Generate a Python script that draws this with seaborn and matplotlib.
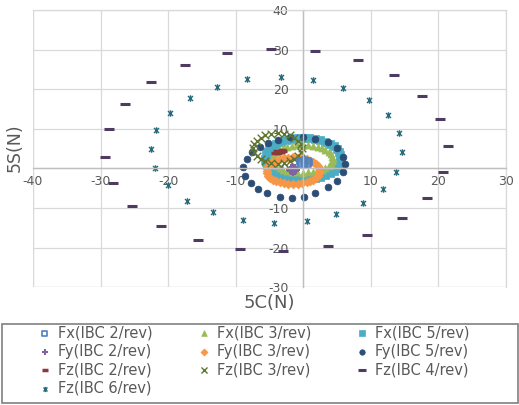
import matplotlib
matplotlib.use('Agg')

import matplotlib.pyplot as plt
from matplotlib.path import Path
from matplotlib.patches import Rectangle
import seaborn as sns

# ── Data ───────────────────────────────────────────────────────────────────
fx2_x = [-0.5, -0.3, 0.2, 0.7, 0.9, 0.7, 0.2, -0.3]
fx2_y = [1.6, 2.0, 2.1, 2.0, 1.6, 1.2, 1.1, 1.2]

fy2_x = [-2.0, -1.8, -1.5, -1.2, -1.0, -1.2, -1.5, -1.8]
fy2_y = [-0.3, 0.1, 0.2, 0.1, -0.3, -0.7, -0.8, -0.7]

fz2_x = [-4.1, -3.9, -3.6, -3.2, -3.0, -3.3, -3.7]
fz2_y = [4.0, 4.3, 4.5, 4.6, 4.4, 4.1, 3.9]

fx3_x = [4.4, 4.3, 4.1, 3.8, 3.3, 2.8, 2.2, 1.4, 0.7, -0.1,
         -0.9, -1.6, -2.4, -3.0, -3.5, -4.0, -4.3, -4.5, -4.6,
         -4.5, -4.3, -4.0, -3.5, -3.0, -2.4, -1.6, -0.9, -0.1,
         0.7, 1.4, 2.2, 2.8, 3.3, 3.8, 4.1, 4.3]
fx3_y = [2.4, 3.0, 3.6, 4.2, 4.7, 5.1, 5.4, 5.7, 5.8, 5.9,
         5.8, 5.7, 5.4, 5.1, 4.7, 4.2, 3.6, 3.0, 2.4,
         1.8, 1.2, 0.7, 0.1, -0.3, -0.6, -0.9, -1.0, -1.1,
         -1.0, -0.9, -0.6, -0.3, 0.1, 0.7, 1.2, 1.8]

fy3_x = [2.4, 2.3, 2.2, 1.9, 1.5, 1.0, 0.5, -0.2, -0.8, -1.5,
         -2.2, -2.8, -3.5, -4.0, -4.5, -4.9, -5.2, -5.3, -5.4,
         -5.3, -5.2, -4.9, -4.5, -4.0, -3.5, -2.8, -2.2, -1.5,
         -0.8, -0.2, 0.5, 1.0, 1.5, 1.9, 2.2, 2.3]
fy3_y = [-0.6, 0.0, 0.6, 1.1, 1.6, 2.0, 2.3, 2.6, 2.7, 2.8,
         2.7, 2.6, 2.3, 2.0, 1.6, 1.1, 0.6, 0.0, -0.6,
         -1.2, -1.8, -2.3, -2.8, -3.2, -3.5, -3.8, -3.9, -4.0,
         -3.9, -3.8, -3.5, -3.2, -2.8, -2.3, -1.8, -1.2]

fz3_x = [-0.2, -0.3, -0.7, -1.3, -2.0, -2.9, -3.8,
         -4.7, -5.6, -6.3, -6.9, -7.3, -7.4,
         -7.3, -6.9, -6.3, -5.6, -4.7, -3.8,
         -2.9, -2.0, -1.3, -0.7, -0.3]
fz3_y = [5.1, 6.1, 7.0, 7.8, 8.4, 8.8, 8.9,
         8.8, 8.4, 7.8, 7.0, 6.1, 5.1,
         4.1, 3.2, 2.4, 1.8, 1.4, 1.2,
         1.4, 1.8, 2.4, 3.2, 4.1]

fx5_x = [5.6, 5.5, 5.3, 5.0, 4.5, 4.0, 3.3, 2.5, 1.7, 0.9,
         0.0, -0.9, -1.7, -2.5, -3.3, -4.0, -4.5, -5.0, -5.3, -5.5,
         -5.6, -5.5, -5.3, -5.0, -4.5, -4.0, -3.3, -2.5, -1.7, -0.9,
         0.0, 0.9, 1.7, 2.5, 3.3, 4.0, 4.5, 5.0, 5.3, 5.5]
fx5_y = [2.5, 3.3, 4.1, 4.9, 5.6, 6.2, 6.7, 7.1, 7.4, 7.6,
         7.7, 7.6, 7.4, 7.1, 6.7, 6.2, 5.6, 4.9, 4.1, 3.3,
         2.5, 1.7, 0.9, 0.1, -0.6, -1.2, -1.7, -2.1, -2.4, -2.6,
         -2.7, -2.6, -2.4, -2.1, -1.7, -1.2, -0.6, 0.1, 0.9, 1.7]

fy5_x = [-5.2, -6.4, -7.6, -8.3, -8.9, -8.6, -7.7, -6.7, -5.3, -3.4,
         -1.6, 0.1, 1.8, 3.6, 5.0, 5.9, 6.2, 5.9, 5.0, 3.6,
         1.8, -0.1, -1.9, -3.7]
fy5_y = [6.3, 5.3, 4.1, 2.5, 0.3, -2.0, -3.6, -5.1, -6.3, -7.1,
         -7.4, -7.1, -6.1, -4.8, -3.3, -1.0, 1.0, 3.0, 5.1, 6.6,
         7.4, 7.9, 7.9, 7.1]

fz4_x = [-11.3, -17.5, -22.5, -26.4, -28.7, -29.3, -28.1, -25.3, -21.0, -15.6,
         -9.3, -3.0, 3.6, 9.5, 14.7, 18.4, 20.7, 21.5, 20.3, 17.6,
         13.5, 8.1, 1.8, -4.7]
fz4_y = [29.2, 26.1, 21.8, 16.2, 9.9, 3.0, -3.6, -9.4, -14.5, -18.1,
         -20.3, -20.8, -19.6, -16.8, -12.5, -7.4, -0.9, 5.6, 12.4, 18.4,
         23.6, 27.4, 29.7, 30.2]

fz6_x = [-8.3, -12.7, -16.7, -19.7, -21.8, -22.5, -21.9, -20.0, -17.2, -13.4,
         -8.9, -4.3, 0.6, 4.9, 8.9, 11.8, 13.8, 14.7, 14.2, 12.6,
         9.8, 5.9, 1.5, -3.3]
fz6_y = [22.6, 20.6, 17.8, 14.0, 9.6, 4.8, 0.0, -4.3, -8.2, -11.0,
         -13.1, -13.8, -13.3, -11.5, -8.7, -5.1, -0.9, 4.1, 9.0, 13.5,
         17.4, 20.4, 22.3, 23.0]

x_ticks = [-40, -30, -20, -10, 0, 10, 20, 30]
y_ticks = [-30, -20, -10, 0, 10, 20, 30, 40]

# ── Style ──────────────────────────────────────────────────────────────────
sns.set_style('white')
plt.rcParams['font.family'] = ['DejaVu Sans']
plt.rcParams['axes.unicode_minus'] = False

TXT = '#595959'
GRID = '#d9d9d9'

# asterisk marker: an "x" with a vertical bar
star = Path(
    [(-1, -1), (1, 1), (-1, 1), (1, -1), (0, -1.3), (0, 1.3)],
    [Path.MOVETO, Path.LINETO, Path.MOVETO, Path.LINETO,
     Path.MOVETO, Path.LINETO]
)

fig = plt.figure(figsize=(5.19, 4.05), dpi=100)
ax = fig.add_axes([0.0636, 0.291, 0.911, 0.684])

# draw order: back to front
sns.scatterplot(x=fx5_x, y=fx5_y, marker='s', s=28, color='#4BACC6',
                edgecolor='#4BACC6', linewidth=0.5, ax=ax,
                label='Fx(IBC 5/rev)')
sns.scatterplot(x=fx3_x, y=fx3_y, marker='^', s=26, color='#9BBB59',
                edgecolor='#9BBB59', linewidth=0.5, ax=ax,
                label='Fx(IBC 3/rev)')
sns.scatterplot(x=fy3_x, y=fy3_y, marker='D', s=20, color='#F79646',
                edgecolor='#F79646', linewidth=0.5, ax=ax,
                label='Fy(IBC 3/rev)')
sns.scatterplot(x=fy5_x, y=fy5_y, marker='o', s=24, color='#2C4D75',
                edgecolor='#2C4D75', linewidth=0.5, ax=ax,
                label='Fy(IBC 5/rev)')
sns.scatterplot(x=fz3_x, y=fz3_y, marker='x', s=30, color='#5F7530',
                linewidth=1.0, ax=ax, label='Fz(IBC 3/rev)')
sns.scatterplot(x=fx2_x, y=fx2_y, marker='s', s=18, color='#4F81BD',
                facecolors='none', edgecolor='#4F81BD', linewidth=1.2,
                ax=ax, label='Fx(IBC 2/rev)')
sns.scatterplot(x=fy2_x, y=fy2_y, marker='+', s=30, color='#8064A2',
                linewidth=1.5, ax=ax, label='Fy(IBC 2/rev)')
sns.scatterplot(x=fz2_x, y=fz2_y, marker='_', s=30, color='#8B3A3A',
                linewidth=2.5, ax=ax, label='Fz(IBC 2/rev)')
sns.scatterplot(x=fz4_x, y=fz4_y, marker='_', s=42, color='#4D3B62',
                linewidth=2.2, ax=ax, label='Fz(IBC 4/rev)')
sns.scatterplot(x=fz6_x, y=fz6_y, marker=star, s=22, color='#276A7C',
                edgecolor='#276A7C', linewidth=1.0, ax=ax,
                label='Fz(IBC 6/rev)')

ax.set_xlim(-40, 30)
ax.set_ylim(-30, 40)
ax.set_xticks(x_ticks)
ax.set_yticks(y_ticks)
ax.grid(True, color=GRID, lw=0.9)
ax.set_axisbelow(True)

# axes cross at the origin, like the spreadsheet chart
ax.spines['left'].set_position(('data', 0))
ax.spines['bottom'].set_position(('data', 0))
for side in ['left', 'bottom']:
    ax.spines[side].set_color('#bfbfbf')
    ax.spines[side].set_linewidth(1.0)
for side in ['top', 'right']:
    ax.spines[side].set_color(GRID)
    ax.spines[side].set_linewidth(0.9)
ax.axvline(-40, color=GRID, lw=0.9, zorder=0)
ax.axhline(-30, color=GRID, lw=0.9, zorder=0)

ax.tick_params(axis='both', length=0, labelsize=9, labelcolor=TXT)
ax.tick_params(axis='y', pad=10.5)
ax.tick_params(axis='x', pad=5)

fig.text(0.029, 0.635, '5S(N)', rotation=90, ha='center', va='center',
         fontsize=12.5, color=TXT)
fig.text(0.519, 0.251, '5C(N)', ha='center', va='center',
         fontsize=13, color=TXT)

# ── Legend below the chart ─────────────────────────────────────────────────
handles, labels = ax.get_legend_handles_labels()
ax.get_legend().remove()
order = ['Fx(IBC 2/rev)', 'Fy(IBC 2/rev)', 'Fz(IBC 2/rev)', 'Fz(IBC 6/rev)',
         'Fx(IBC 3/rev)', 'Fy(IBC 3/rev)', 'Fz(IBC 3/rev)',
         'Fx(IBC 5/rev)', 'Fy(IBC 5/rev)', 'Fz(IBC 4/rev)']
lookup = dict(zip(labels, handles))

fig.patches.append(Rectangle(
    (1.5 / 519, 2.5 / 405), 516 / 519, 79 / 405,
    transform=fig.transFigure, fill=False, edgecolor='#808080', lw=1.2
))

leg = fig.legend(
    [lookup[k] for k in order],
    order,
    ncol=3,
    loc='upper left',
    bbox_to_anchor=(36 / 519, 1 - 325 / 405),
    fontsize=10.5,
    labelcolor=TXT,
    frameon=False,
    handletextpad=0.3,
    handlelength=1.2,
    labelspacing=0.25,
    columnspacing=2.9,
    borderpad=0,
    borderaxespad=0,
    markerscale=0.8,
)

plt.savefig('out.png', dpi=100)
plt.close()
